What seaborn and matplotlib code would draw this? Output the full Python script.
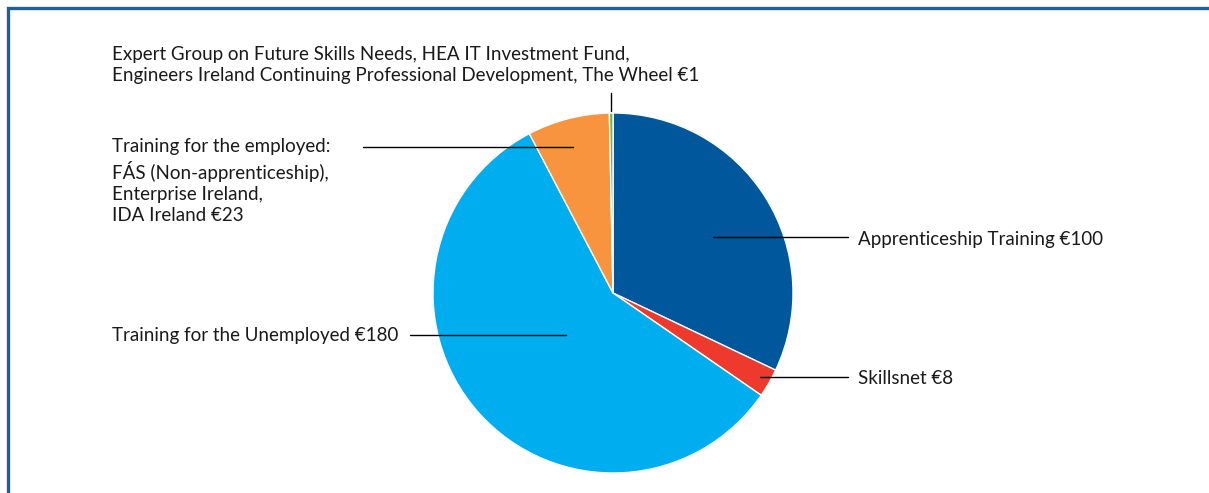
import matplotlib.pyplot as plt
import seaborn as sns

# Slices, clockwise from 12 o'clock (€ millions)
labels = [
    "Apprenticeship Training €100",
    "Skillsnet €8",
    "Training for the Unemployed €180",
    "Training for the employed:\nFÁS (Non-apprenticeship),\nEnterprise Ireland,\nIDA Ireland €23",
    "Expert Group on Future Skills Needs, HEA IT Investment Fund,\n"
    "Engineers Ireland Continuing Professional Development, The Wheel €1",
]
values = [100, 8, 180, 23, 1]
colors = ["#00579b", "#ee3a2c", "#00aeef", "#f7943d", "#6cb545"]

sns.set_theme(style="white")
plt.rcParams['font.family'] = ['Lato', 'DejaVu Sans']

W, H = 1209, 493
fig = plt.figure(figsize=(W / 100, H / 100), dpi=100)
ax = fig.add_axes([0, 0, 1, 1])

def Y(py):
    # pixel row from top -> data y
    return H - py

cx, cy, r = 613, 293, 180
ax.pie(values, colors=colors, startangle=90, counterclock=False,
       center=(cx, Y(cy)), radius=r,
       wedgeprops=dict(edgecolor='white', linewidth=1.0))
ax.set_xlim(0, W)
ax.set_ylim(0, H)
ax.set_aspect('equal')
ax.axis('off')

# frame (left + top, blue)
ax.plot([8, 8, W], [0, Y(8), Y(8)], color="#1f5f9e", lw=2.4, solid_capstyle='butt',
        solid_joinstyle='miter', clip_on=False)

fs = 13.5
txt = dict(fontsize=fs, color="#1a1a1a", va='center', linespacing=1.3)

# Apprenticeship
ax.plot([713, 848], [Y(237), Y(237)], color='black', lw=1)
ax.text(858, Y(239), labels[0], ha='left', **txt)
# Skillsnet
ax.plot([760, 848], [Y(377), Y(377)], color='black', lw=1)
ax.text(858, Y(379), labels[1], ha='left', **txt)
# Unemployed
ax.plot([410, 566], [Y(335), Y(335)], color='black', lw=1)
ax.text(112, Y(336), labels[2], ha='left', **txt)
# Employed
ax.plot([363, 573], [Y(147), Y(147)], color='black', lw=1)
ax.text(112, Y(181), labels[3], ha='left', **txt)
# Expert group
ax.plot([611, 611], [Y(93), Y(111)], color='black', lw=1)
ax.text(112, Y(65), labels[4], ha='left', **txt)

plt.savefig("out.png", dpi=100)
